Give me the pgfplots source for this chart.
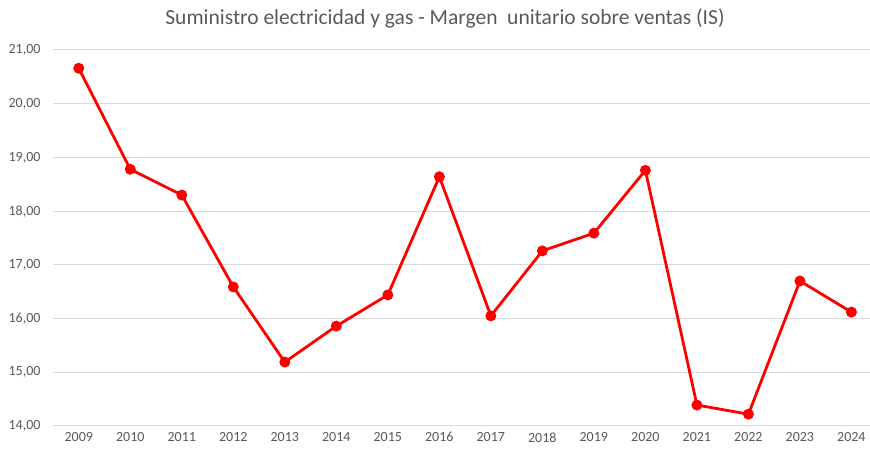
\documentclass[border=0pt]{standalone}
\usepackage{pgfplots}
\pgfplotsset{compat=1.18}
\usepackage{fontspec}
\setmainfont{Carlito}
\definecolor{txt}{HTML}{595959}
\definecolor{grd}{HTML}{D9D9D9}
\begin{document}
\begin{tikzpicture}[x=1pt,y=1pt]
\path[use as bounding box] (0,0) rectangle (870,455);
\begin{axis}[
  at={(53pt,29pt)}, anchor=south west,
  scale only axis, width=817pt, height=376pt,
  xmin=2008.5, xmax=2024.36, ymin=14, ymax=21,
  xtick={2009,...,2024},
  xticklabel style={/pgf/number format/1000 sep={}},
  ytick={14,...,21},
  yticklabel={\pgfmathprintnumber[fixed,fixed zerofill,precision=2,use comma]{\tick}},
  /pgf/number format/assume math mode=true,
  ymajorgrids, grid style={grd, line width=1pt},
  axis line style={draw=none},
  axis x line*=bottom,
  x axis line style={grd,line width=1pt},
  tick style={draw=none},
  ticklabel style={font=\fontsize{14}{16}\selectfont, text=txt},
  xticklabel style={yshift=-3pt},
  yticklabel style={xshift=-9pt},
  clip=false,
]
\addplot[red, line width=2.8pt, mark=*, mark size=4pt, mark options={solid}] coordinates {
(2009,20.66) (2010,18.78) (2011,18.30) (2012,16.59) (2013,15.19) (2014,15.86)
(2015,16.44) (2016,18.64) (2017,16.05) (2018,17.26) (2019,17.59) (2020,18.76)
(2021,14.39) (2022,14.22) (2023,16.70) (2024,16.12)};
\end{axis}
\node[text=txt, font=\fontsize{21.5}{25}\selectfont] at (445,437) {Suministro electricidad y gas - Margen\ \ unitario sobre ventas (IS)};
\end{tikzpicture}
\end{document}
